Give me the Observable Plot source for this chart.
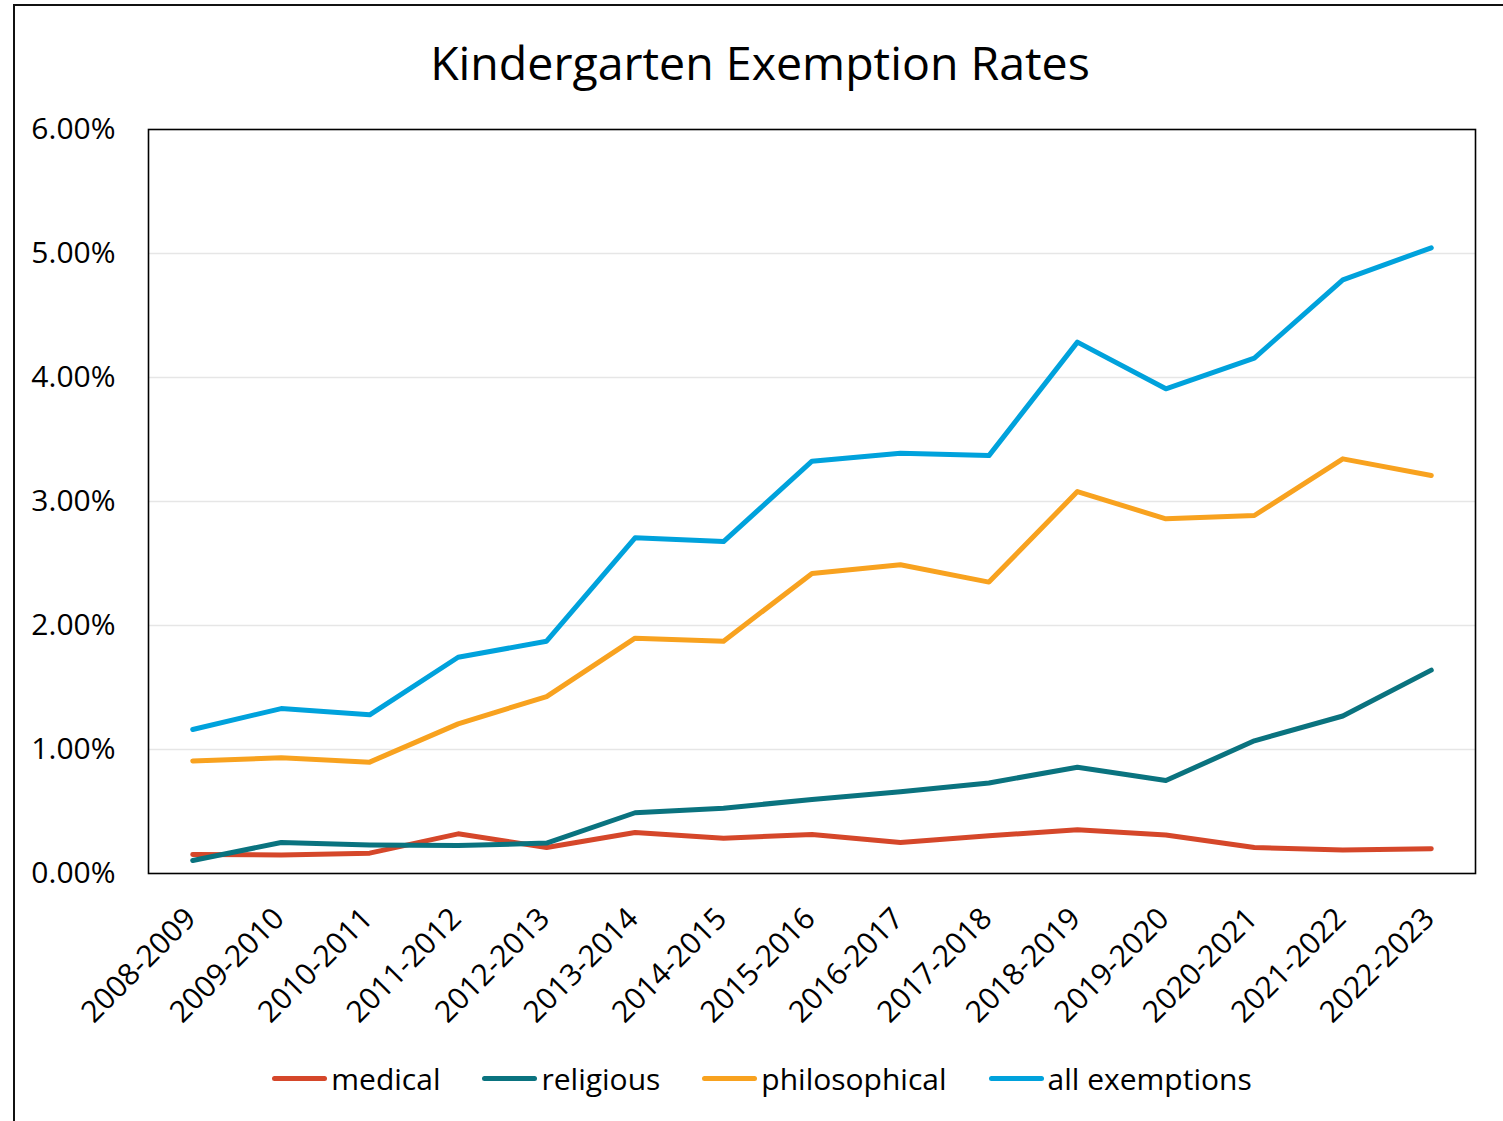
<!DOCTYPE html>
<html><head><meta charset="utf-8">
<script src="https://cdn.jsdelivr.net/npm/d3@7"></script>
<script src="https://cdn.jsdelivr.net/npm/@observablehq/plot@0.6"></script>
<style>
html,body{margin:0;padding:0;background:#fff;overflow:hidden;}
#page{position:relative;width:1503px;height:1121px;font-family:"Open Sans",sans-serif;color:#000;overflow:hidden;}
#border{position:absolute;left:13px;top:4px;width:1600px;height:1300px;border:2px solid #111;box-sizing:border-box;}
#title{position:absolute;left:0;width:1520px;top:30px;text-align:center;font-size:46.5px;line-height:normal;white-space:nowrap;}
#chart{position:absolute;left:0;top:100px;}
#legend{position:absolute;left:0;width:1524px;top:1058px;display:flex;justify-content:center;font-size:30px;line-height:normal;white-space:nowrap;}
.item{display:flex;align-items:center;margin:0 21px;}
.sw{width:55px;height:5px;border-radius:3px;margin-right:4px;}
</style>
</head><body>
<div id="page">
  <div id="border"></div>
  <div id="title">Kindergarten Exemption Rates</div>
  <div id="chart"></div>
  <div id="legend"></div>
</div>
<script>
const years = ["2008-2009","2009-2010","2010-2011","2011-2012","2012-2013","2013-2014","2014-2015","2015-2016","2016-2017","2017-2018","2018-2019","2019-2020","2020-2021","2021-2022","2022-2023"];
const medical = [0.153, 0.150, 0.164, 0.320, 0.210, 0.330, 0.285, 0.315, 0.250, 0.305, 0.352, 0.310, 0.210, 0.190, 0.200];
const religious = [0.105, 0.250, 0.230, 0.225, 0.245, 0.490, 0.527, 0.597, 0.660, 0.730, 0.857, 0.750, 1.070, 1.270, 1.640];
const philosophical = [0.908, 0.933, 0.898, 1.207, 1.427, 1.898, 1.873, 2.420, 2.490, 2.350, 3.080, 2.860, 2.887, 3.344, 3.210];
const allExemptions = [1.161, 1.330, 1.280, 1.744, 1.873, 2.707, 2.677, 3.325, 3.390, 3.370, 4.285, 3.909, 4.156, 4.788, 5.046];
const seriesNames = ["medical","religious","philosophical","all exemptions"];
const seriesColors = ["#d5472a","#0a737f","#f8a21f","#00a2dc"];
const yTicks = [0, 0.01, 0.02, 0.03, 0.04, 0.05, 0.06];
const gridTicks = [0.01, 0.02, 0.03, 0.04, 0.05];

const seriesValues = [medical, religious, philosophical, allExemptions];
const rows = seriesNames.flatMap((name, i) => years.map((yr, j) => ({series: name, year: yr, value: seriesValues[i][j] / 100})));

const chart = Plot.plot({
  width: 1503, height: 930,
  marginTop: 29, marginLeft: 148, marginRight: 28, marginBottom: 157,
  style: {fontFamily: '"Open Sans", sans-serif', fontSize: "30px", color: "#000", background: "transparent", overflow: "visible"},
  x: {type: "point", domain: years, padding: 0.5, round: false, label: null},
  y: {domain: [0, 0.06], label: null},
  color: {domain: seriesNames, range: seriesColors},
  marks: [
    Plot.gridY(gridTicks, {stroke: "#e6e6e6", strokeOpacity: 1, strokeWidth: 1.6}),
    Plot.axisY(yTicks, {tickSize: 0, tickPadding: 33, tickFormat: d3.format(".2%"), label: null}),
    Plot.axisX({tickSize: 0, tickRotate: -45, tickPadding: 40, dx: -2, label: null}),
    Plot.line(rows, {x: "year", y: "value", z: "series", stroke: "series", strokeWidth: 5, strokeLinecap: "round", strokeLinejoin: "round"}),
    Plot.frame({stroke: "#000", strokeWidth: 1.6})
  ]
});
document.getElementById("chart").appendChild(chart);

const legend = document.getElementById("legend");
seriesNames.forEach((name, i) => {
  const it = document.createElement("div");
  it.className = "item";
  const sw = document.createElement("div");
  sw.className = "sw";
  sw.style.background = seriesColors[i];
  const tx = document.createElement("span");
  tx.textContent = name;
  it.appendChild(sw); it.appendChild(tx);
  legend.appendChild(it);
});
</script>
</body></html>
